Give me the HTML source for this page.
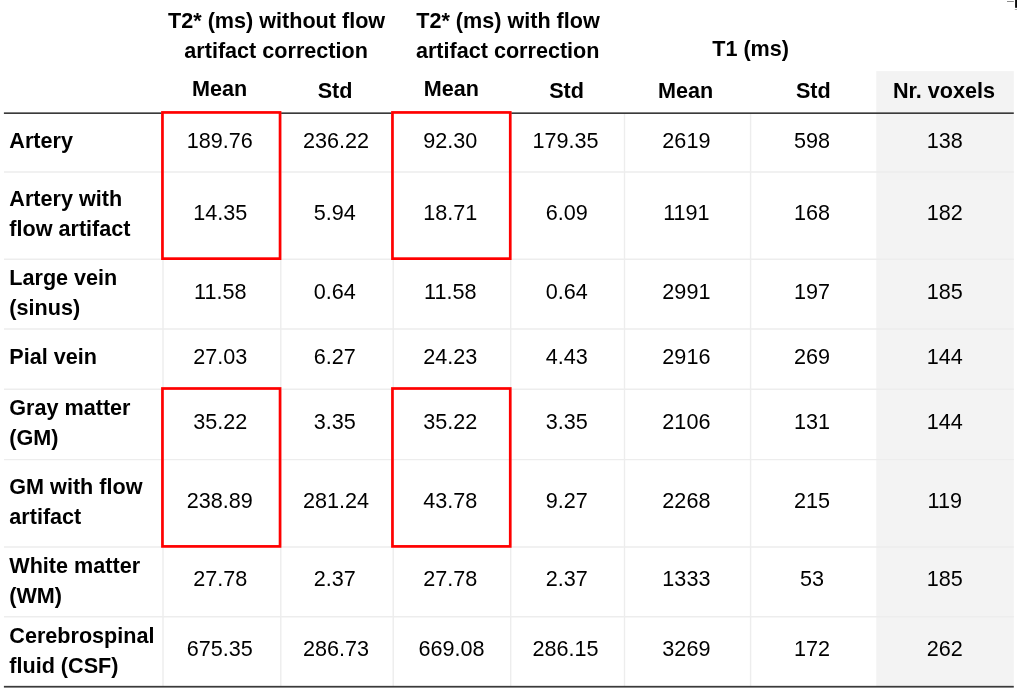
<!DOCTYPE html>
<html lang="en"><head><meta charset="utf-8"><title>T2* and T1 values per tissue</title>
<style>
html,body{margin:0;padding:0;background:#fff;}
body{width:1017px;height:692px;position:relative;overflow:hidden;font-family:"Liberation Sans",Arial,Helvetica,sans-serif;font-size:21.6px;color:#000;}
svg{position:absolute;left:0;top:0;}
.t{position:absolute;white-space:nowrap;line-height:30px;height:30px;}
.c{text-align:center;width:240px;}
.b{font-weight:bold;}
</style></head><body>
<svg width="1017" height="692" viewBox="0 0 1017 692">
<rect x="876.3" y="71.1" width="137.5" height="615.5" fill="#f3f3f3"/>
<g stroke="#ededed" stroke-width="1.4" fill="none">
<line x1="4" y1="172" x2="1013.8" y2="172"/>
<line x1="4" y1="259.3" x2="1013.8" y2="259.3"/>
<line x1="4" y1="329" x2="1013.8" y2="329"/>
<line x1="4" y1="389.2" x2="1013.8" y2="389.2"/>
<line x1="4" y1="459.6" x2="1013.8" y2="459.6"/>
<line x1="4" y1="547" x2="1013.8" y2="547"/>
<line x1="4" y1="616.7" x2="1013.8" y2="616.7"/>
<line x1="163" y1="113" x2="163" y2="687"/>
<line x1="280.8" y1="113" x2="280.8" y2="687"/>
<line x1="393.2" y1="113" x2="393.2" y2="687"/>
<line x1="510.7" y1="113" x2="510.7" y2="687"/>
<line x1="624.5" y1="113" x2="624.5" y2="687"/>
<line x1="750.6" y1="113" x2="750.6" y2="687"/>
</g>
<rect x="3.9" y="112.35" width="157.7" height="1.65" fill="#3a3a3a"/>
<rect x="281.1" y="112.35" width="110.5" height="1.65" fill="#3a3a3a"/>
<rect x="511.2" y="112.35" width="502.6" height="1.65" fill="#3a3a3a"/>
<rect x="3.9" y="685.85" width="1009.9" height="1.75" fill="#3a3a3a"/>
<g stroke="#ff0000" stroke-width="2.7" fill="none">
<rect x="162.45" y="112.45" width="117.6" height="146.2"/>
<rect x="162.45" y="388.5" width="117.6" height="157.9"/>
<rect x="392.45" y="112.45" width="117.8" height="146.2"/>
<rect x="392.45" y="388.5" width="117.8" height="157.9"/>
</g>
<rect x="1015.1" y="0" width="1.9" height="7.8" fill="#0a0a0a"/>
<rect x="1007" y="1.1" width="6.8" height="0.9" fill="#808080"/>
<rect x="1014.8" y="9.2" width="2.2" height="0.8" fill="#999"/>
</svg>
<div class="t c b" style="left:156.6px;top:5.52px">T2* (ms) without flow</div>
<div class="t c b" style="left:156.1px;top:35.52px">artifact correction</div>
<div class="t c b" style="left:388.0px;top:5.52px">T2* (ms) with flow</div>
<div class="t c b" style="left:387.7px;top:35.52px">artifact correction</div>
<div class="t c b" style="left:630.6px;top:33.52px">T1 (ms)</div>
<div class="t c b" style="left:99.7px;top:73.52px">Mean</div>
<div class="t c b" style="left:215.1px;top:75.52px">Std</div>
<div class="t c b" style="left:331.4px;top:73.52px">Mean</div>
<div class="t c b" style="left:446.6px;top:75.52px">Std</div>
<div class="t c b" style="left:565.7px;top:75.52px">Mean</div>
<div class="t c b" style="left:693.3px;top:75.52px">Std</div>
<div class="t c b" style="left:824.0px;top:75.52px">Nr. voxels</div>
<div class="t b" style="left:9.3px;top:125.52px">Artery</div>
<div class="t c" style="left:99.8px;top:125.52px">189.76</div>
<div class="t c" style="left:216.0px;top:125.52px">236.22</div>
<div class="t c" style="left:330.3px;top:125.52px">92.30</div>
<div class="t c" style="left:445.5px;top:125.52px">179.35</div>
<div class="t c" style="left:566.4px;top:125.52px">2619</div>
<div class="t c" style="left:692.0px;top:125.52px">598</div>
<div class="t c" style="left:824.7px;top:125.52px">138</div>
<div class="t b" style="left:9.3px;top:183.52px">Artery with</div>
<div class="t b" style="left:9.3px;top:213.52px">flow artifact</div>
<div class="t c" style="left:100.3px;top:197.52px">14.35</div>
<div class="t c" style="left:214.8px;top:197.52px">5.94</div>
<div class="t c" style="left:330.3px;top:197.52px">18.71</div>
<div class="t c" style="left:446.7px;top:197.52px">6.09</div>
<div class="t c" style="left:566.4px;top:197.52px">1191</div>
<div class="t c" style="left:692.0px;top:197.52px">168</div>
<div class="t c" style="left:824.7px;top:197.52px">182</div>
<div class="t b" style="left:9.3px;top:262.52px">Large vein</div>
<div class="t b" style="left:9.3px;top:292.52px">(sinus)</div>
<div class="t c" style="left:100.3px;top:276.52px">11.58</div>
<div class="t c" style="left:214.8px;top:276.52px">0.64</div>
<div class="t c" style="left:330.3px;top:276.52px">11.58</div>
<div class="t c" style="left:446.7px;top:276.52px">0.64</div>
<div class="t c" style="left:566.4px;top:276.52px">2991</div>
<div class="t c" style="left:692.0px;top:276.52px">197</div>
<div class="t c" style="left:824.7px;top:276.52px">185</div>
<div class="t b" style="left:9.3px;top:341.52px">Pial vein</div>
<div class="t c" style="left:100.3px;top:341.52px">27.03</div>
<div class="t c" style="left:214.8px;top:341.52px">6.27</div>
<div class="t c" style="left:330.3px;top:341.52px">24.23</div>
<div class="t c" style="left:446.7px;top:341.52px">4.43</div>
<div class="t c" style="left:566.4px;top:341.52px">2916</div>
<div class="t c" style="left:692.0px;top:341.52px">269</div>
<div class="t c" style="left:824.7px;top:341.52px">144</div>
<div class="t b" style="left:9.3px;top:392.52px">Gray matter</div>
<div class="t b" style="left:9.3px;top:422.52px">(GM)</div>
<div class="t c" style="left:100.3px;top:406.52px">35.22</div>
<div class="t c" style="left:214.8px;top:406.52px">3.35</div>
<div class="t c" style="left:330.3px;top:406.52px">35.22</div>
<div class="t c" style="left:446.7px;top:406.52px">3.35</div>
<div class="t c" style="left:566.4px;top:406.52px">2106</div>
<div class="t c" style="left:692.0px;top:406.52px">131</div>
<div class="t c" style="left:824.7px;top:406.52px">144</div>
<div class="t b" style="left:9.3px;top:471.52px">GM with flow</div>
<div class="t b" style="left:9.3px;top:501.52px">artifact</div>
<div class="t c" style="left:99.8px;top:485.52px">238.89</div>
<div class="t c" style="left:216.0px;top:485.52px">281.24</div>
<div class="t c" style="left:330.3px;top:485.52px">43.78</div>
<div class="t c" style="left:446.7px;top:485.52px">9.27</div>
<div class="t c" style="left:566.4px;top:485.52px">2268</div>
<div class="t c" style="left:692.0px;top:485.52px">215</div>
<div class="t c" style="left:824.7px;top:485.52px">119</div>
<div class="t b" style="left:9.3px;top:550.52px">White matter</div>
<div class="t b" style="left:9.3px;top:580.52px">(WM)</div>
<div class="t c" style="left:100.3px;top:563.52px">27.78</div>
<div class="t c" style="left:214.8px;top:563.52px">2.37</div>
<div class="t c" style="left:330.3px;top:563.52px">27.78</div>
<div class="t c" style="left:446.7px;top:563.52px">2.37</div>
<div class="t c" style="left:566.4px;top:563.52px">1333</div>
<div class="t c" style="left:692.0px;top:563.52px">53</div>
<div class="t c" style="left:824.7px;top:563.52px">185</div>
<div class="t b" style="left:9.3px;top:620.52px">Cerebrospinal</div>
<div class="t b" style="left:9.3px;top:650.52px">fluid (CSF)</div>
<div class="t c" style="left:99.8px;top:633.52px">675.35</div>
<div class="t c" style="left:216.0px;top:633.52px">286.73</div>
<div class="t c" style="left:331.6px;top:633.52px">669.08</div>
<div class="t c" style="left:445.5px;top:633.52px">286.15</div>
<div class="t c" style="left:566.4px;top:633.52px">3269</div>
<div class="t c" style="left:692.0px;top:633.52px">172</div>
<div class="t c" style="left:824.7px;top:633.52px">262</div>
</body></html>
